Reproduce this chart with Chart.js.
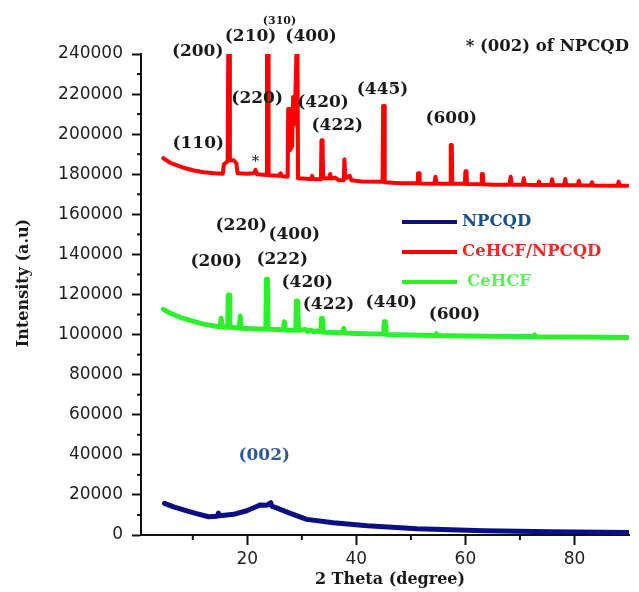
<!DOCTYPE html>
<html>
<head>
<meta charset="utf-8">
<script src="https://cdn.jsdelivr.net/npm/chart.js@4"></script>
<style>
html, body { margin: 0; padding: 0; background: #fff; }
#wrap { width: 639px; height: 592px; }
</style>
</head>
<body>
<div id="wrap"><canvas id="xrdChart" width="639" height="592"></canvas></div>
<script>
// 2 Theta (degree) / Intensity (a.u)
const npcqdTheta = [4.8, 6.5, 8.3, 10.5, 12.9, 14.5, 14.7, 14.9, 17.5, 19.9, 21.5, 22.4, 23.5, 24.3, 24.5, 25.1, 26.5, 27.9, 30.9, 35.8, 42, 51.1, 63.4, 75.6, 89.7];
const npcqdIntensity = [15800, 14000, 12500, 10800, 9100, 9400, 10900, 9600, 10300, 12100, 14000, 15000, 14800, 16100, 14300, 13800, 12300, 10800, 7800, 6100, 4600, 3100, 2100, 1600, 1300];

const compositeTheta = [4.6, 6, 8, 10, 12, 14, 15.5, 15.7, 16.4, 16.5, 16.7, 16.8, 17.5, 18.0, 18.2, 20, 21.2, 21.5, 21.8, 23.5, 23.6, 23.8, 23.9,
  25.8, 26.1, 26.4, 27.4, 27.5, 27.7, 27.8, 28.2, 28.4, 28.5, 28.7, 29.0, 29.2, 29.3, 31.7, 31.9, 32.1, 33.5, 33.6, 33.8, 33.9,
  35.0, 35.2, 35.4, 36.1, 36.8, 37.7, 37.8, 37.9, 38.0, 38.8, 39.1, 41, 44.8, 44.9, 45.1, 45.2, 48, 51.2, 51.3, 51.5, 51.6,
  54.3, 54.5, 54.7, 57.2, 57.3, 57.5, 57.6, 59.9, 60.0, 60.2, 60.3, 62.9, 63.0, 63.2, 63.3, 65, 68.1, 68.3, 68.5, 70.5, 70.7, 70.9,
  73.3, 73.5, 73.7, 75.7, 75.9, 76.1, 78.1, 78.3, 78.5, 80.6, 80.8, 81.0, 83.0, 83.2, 83.4, 87.9, 88.1, 88.3, 89.7];
const compositeIntensity = [188000, 185500, 183500, 182000, 181000, 180500, 180300, 185000, 186500, 240000, 240000, 187000, 187000, 185500, 180500, 180300, 180500, 182200, 180000, 179600, 240000, 240000, 179500,
  179200, 180500, 179000, 178800, 212600, 212600, 192000, 194000, 218500, 218500, 205000, 240000, 240000, 178000, 177600, 179200, 177600, 177400, 197000, 197000, 178000,
  178000, 180100, 177800, 178300, 177000, 177000, 187500, 187500, 178000, 179200, 177000, 176400, 176200, 214000, 214000, 176000, 175500, 175500, 180500, 180500, 175400,
  175300, 178800, 175300, 175300, 194600, 194600, 175200, 175200, 181500, 181500, 175100, 175000, 180100, 180100, 175000, 174800, 174800, 178800, 174800, 174700, 178000, 174700,
  174600, 176300, 174600, 174600, 177500, 174600, 174500, 177600, 174500, 174500, 176800, 174500, 174400, 176000, 174400, 174300, 176300, 174300, 174300];

const cehcfTheta = [4.6, 6, 8, 10, 12, 14.7, 15.0, 15.2, 15.4, 16.4, 16.5, 16.7, 16.8, 18.5, 18.7, 18.9, 21, 23.4, 23.5, 23.7, 23.8,
  26.6, 26.8, 27.0, 28.9, 29.0, 29.2, 29.4, 30.6, 31.0, 31.6, 32.2, 32.8, 33.5, 33.6, 33.8, 34.0, 37.5, 37.7, 37.9, 40, 42,
  45.0, 45.1, 45.3, 45.5, 50, 54.5, 54.7, 54.9, 60, 70, 72.5, 72.7, 72.9, 80, 89.7];
const cehcfIntensity = [112600, 110500, 108300, 106700, 105200, 103900, 104000, 108100, 103900, 103700, 119800, 119800, 103600, 103300, 109300, 103200, 102900, 102700, 127600, 127600, 102600,
  102400, 106400, 102300, 102200, 116800, 116800, 102100, 102600, 101600, 102300, 101400, 101900, 101300, 108100, 108100, 101200, 100900, 103100, 100800, 100600, 100400,
  100300, 106400, 106400, 100100, 99800, 99500, 100500, 99500, 99300, 99000, 99000, 99800, 98900, 98800, 98600];

const xTicks = [20, 40, 60, 80];
const xMinorTicks = [10, 30, 50, 70];
const yTicks = [0, 20000, 40000, 60000, 80000, 100000, 120000, 140000, 160000, 180000, 200000, 220000, 240000];
const yMinorTicks = [10000, 30000, 50000, 70000, 90000, 110000, 130000, 150000, 170000, 190000, 210000, 230000];

// peak indices: [text, 2 theta, intensity]
const compositePeakLabels = [['(200)', 10.9, 241000], ['(210)', 20.6, 248500], ['(400)', 31.7, 248500],
  ['(220)', 21.8, 217600], ['(110)', 11.0, 195100], ['(420)', 33.9, 215600], ['(422)', 36.5, 204100],
  ['(445)', 44.8, 222000], ['(600)', 57.4, 207600]];
const cehcfPeakLabels = [['(220)', 18.9, 154200], ['(400)', 28.6, 149700], ['(200)', 14.3, 136200],
  ['(222)', 26.4, 137200], ['(420)', 31.0, 125700], ['(422)', 34.9, 114800], ['(440)', 46.4, 115800],
  ['(600)', 58.0, 109800]];
const npcqdPeakLabels = [['(002)', 23.1, 39400]];

function toPoints(xs, ys) {
    return xs.map(function(x, i) { return { x: x, y: ys[i] }; });
}

const serif = '"DejaVu Serif", serif';

// extra drawing: minor ticks, peak labels, axis titles, legend
const decorPlugin = {
    id: 'decor',
    afterDraw: function(chart) {
        const c = chart.ctx;
        const xs = chart.scales.x, ys = chart.scales.y;
        const area = chart.chartArea;
        c.save();
        c.strokeStyle = '#111';
        c.lineWidth = 2;
        xMinorTicks.forEach(function(v) {
            const px = xs.getPixelForValue(v);
            c.beginPath(); c.moveTo(px, area.bottom); c.lineTo(px, area.bottom + 5); c.stroke();
        });
        yMinorTicks.forEach(function(v) {
            const py = ys.getPixelForValue(v);
            c.beginPath(); c.moveTo(area.left, py); c.lineTo(area.left - 4, py); c.stroke();
        });

        c.textAlign = 'center';
        c.textBaseline = 'middle';
        function drawLabels(list, color) {
            c.fillStyle = color;
            c.font = 'bold 17px ' + serif;
            list.forEach(function(l) {
                c.fillText(l[0], xs.getPixelForValue(l[1]), ys.getPixelForValue(l[2]));
            });
        }
        drawLabels(compositePeakLabels, '#1a1a1a');
        drawLabels(cehcfPeakLabels, '#1a1a1a');
        drawLabels(npcqdPeakLabels, '#2f5a9a');

        c.fillStyle = '#1a1a1a';
        c.font = 'bold 11px ' + serif;
        c.fillText('(310)', xs.getPixelForValue(25.9), ys.getPixelForValue(256500));
        c.font = '15px ' + serif;
        c.fillText('*', xs.getPixelForValue(21.5), ys.getPixelForValue(186300));
        c.font = 'bold 16.5px ' + serif;
        c.textAlign = 'right';
        c.fillText('* (002) of NPCQD', area.right, area.top - 7);

        // axis titles
        c.textAlign = 'center';
        c.font = 'bold 16px ' + serif;
        c.fillText('2 Theta (degree)', (area.left + area.right) / 2 + 5, 580);
        c.save();
        c.translate(24, 283);
        c.rotate(-Math.PI / 2);
        c.fillText('Intensity (a.u)', 0, 0);
        c.restore();

        // legend
        const legendText = ['#1f4e8f', '#ee2b2b', '#5ef05e'];
        c.textAlign = 'left';
        c.font = 'bold 16.5px ' + serif;
        chart.data.datasets.forEach(function(ds, i) {
            const y = area.top + 168 + i * 30;
            const x = area.left + 261;
            c.strokeStyle = ds.borderColor;
            c.lineWidth = 4;
            c.beginPath(); c.moveTo(x, y); c.lineTo(x + 55, y); c.stroke();
            c.fillStyle = legendText[i];
            c.fillText(ds.label, x + (i === 2 ? 65 : 60), y);
        });
        c.restore();
    }
};

const ctx = document.getElementById('xrdChart').getContext('2d');
const xrdChart = new Chart(ctx, {
    type: 'line',
    data: {
        datasets: [{
            label: 'NPCQD',
            data: toPoints(npcqdTheta, npcqdIntensity),
            borderColor: '#0b0f85',
            borderWidth: 5
        }, {
            label: 'CeHCF/NPCQD',
            data: toPoints(compositeTheta, compositeIntensity),
            borderColor: '#ff0000',
            borderWidth: 4
        }, {
            label: 'CeHCF',
            data: toPoints(cehcfTheta, cehcfIntensity),
            borderColor: '#2cf02c',
            borderWidth: 5
        }]
    },
    options: {
        responsive: false,
        animation: false,
        elements: {
            point: { radius: 0 },
            line: { tension: 0, borderJoinStyle: 'round', borderCapStyle: 'round' }
        },
        layout: { padding: { top: 54, right: 10, left: 0, bottom: 0 } },
        plugins: {
            legend: { display: false },
            tooltip: { enabled: false },
            title: { display: false }
        },
        scales: {
            x: {
                type: 'linear',
                min: 0.5,
                max: 90,
                afterFit: function(s) { s.height = 57; },
                afterBuildTicks: function(s) { s.ticks = xTicks.map(function(v) { return { value: v }; }); },
                grid: { drawOnChartArea: false, drawTicks: true, tickLength: 10, tickWidth: 2, tickColor: '#111' },
                border: { display: true, color: '#111', width: 2 },
                ticks: {
                    font: { family: '"DejaVu Sans"', size: 17 },
                    color: '#222',
                    padding: 4,
                    maxRotation: 0,
                    callback: function(v) { return String(v); }
                }
            },
            y: {
                type: 'linear',
                min: 0,
                max: 240000,
                afterFit: function(s) { s.width = 141; },
                afterBuildTicks: function(s) { s.ticks = yTicks.map(function(v) { return { value: v }; }); },
                grid: { drawOnChartArea: false, drawTicks: true, tickLength: 9, tickWidth: 2, tickColor: '#111' },
                border: { display: true, color: '#111', width: 2 },
                ticks: {
                    font: { family: '"DejaVu Sans"', size: 17 },
                    color: '#222',
                    padding: 9,
                    callback: function(v) { return String(v); }
                }
            }
        }
    },
    plugins: [decorPlugin]
});
</script>
</body>
</html>
